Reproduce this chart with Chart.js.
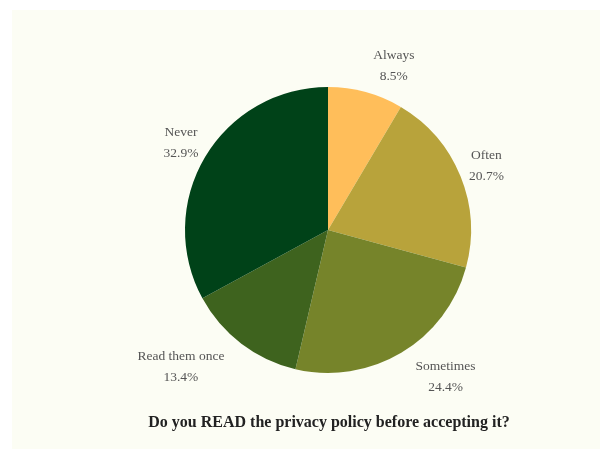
<!DOCTYPE html>
<html>
<head>
<meta charset="utf-8">
<script src="https://cdn.jsdelivr.net/npm/chart.js@4"></script>
<style>
  html, body { margin:0; padding:0; background:#ffffff; }
  .card { position:absolute; left:12px; top:10px; width:588px; height:439px; background:#fcfdf4; }
  canvas { display:block; }
</style>
</head>
<body>
<div class="card"><canvas id="pie" width="588" height="439"></canvas></div>
<script>
const labels = ['Always', 'Often', 'Sometimes', 'Read them once', 'Never'];
const shares = [8.5, 20.7, 24.4, 13.4, 32.9];
const colors = ['#ffbe5a', '#b8a33b', '#76842a', '#3e631e', '#004218'];
const title = 'Do you READ the privacy policy before accepting it?';

const serif = '"Liberation Serif", "DejaVu Serif", serif';

// name + percent drawn outside each slice, along its middle angle
const outsideLabels = {
  id: 'outsideLabels',
  afterDatasetsDraw(chart){
    const ctx = chart.ctx;
    const meta = chart.getDatasetMeta(0);
    ctx.save();
    ctx.fillStyle = '#555555';
    ctx.font = '13.5px ' + serif;
    ctx.textBaseline = 'middle';
    ctx.textAlign = 'center';
    meta.data.forEach((arc, i) => {
      const mid = (arc.startAngle + arc.endAngle) / 2;
      const r = arc.outerRadius + 28;
      const c = Math.cos(mid);
      const pct = shares[i].toFixed(1) + '%';
      const w = Math.max(ctx.measureText(labels[i]).width, ctx.measureText(pct).width);
      // block sits beside the anchor unless the slice points sideways
      const shift = Math.abs(c) > 0.8 ? 0 : Math.sign(c) * w / 2;
      const x = arc.x + c * r + shift;
      const y = arc.y + Math.sin(mid) * r;
      ctx.fillText(labels[i], x, y - 10);
      ctx.fillText(pct, x, y + 11);
    });
    ctx.restore();
  }
};

const bottomTitle = {
  id: 'bottomTitle',
  afterDraw(chart){
    const ctx = chart.ctx;
    ctx.save();
    ctx.fillStyle = '#222222';
    ctx.font = 'bold 16px ' + serif;
    ctx.textAlign = 'center';
    ctx.textBaseline = 'middle';
    ctx.fillText(title, 317, 413);
    ctx.restore();
  }
};

new Chart(document.getElementById('pie'), {
  type: 'pie',
  data: {
    labels,
    datasets: [{ data: shares, backgroundColor: colors, borderWidth: 0 }]
  },
  options: {
    responsive: false,
    animation: false,
    layout: { padding: { top: 77, bottom: 76, left: 173, right: 129 } },
    plugins: { legend: { display: false }, tooltip: { enabled: false } }
  },
  plugins: [outsideLabels, bottomTitle]
});
</script>
</body>
</html>
